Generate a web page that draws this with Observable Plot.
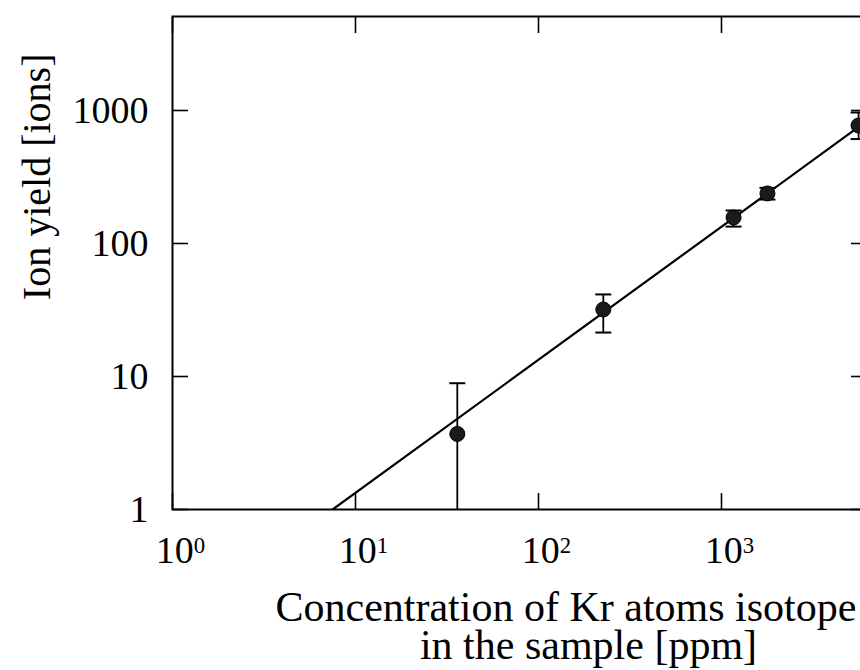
<!DOCTYPE html>
<html><head><meta charset="utf-8">
<script src="https://cdn.jsdelivr.net/npm/d3@7"></script>
<script src="https://cdn.jsdelivr.net/npm/@observablehq/plot@0.6"></script>
<style>
html,body{margin:0;padding:0;background:#fff;overflow:hidden;width:860px;height:670px}
#chart{width:860px;height:670px;overflow:hidden}
#chart svg{display:block;max-width:none !important;width:880px !important;height:670px !important}
</style></head><body><div id="chart"></div>
<script>
// Data
const concentration = [36, 226, 1164, 1783, 5610];   // ppm
const ionYield      = [3.7, 31.9, 157, 238, 771];     // ions
const yieldLow      = [0.5, 21.4, 134, 214, 610];
const yieldHigh     = [8.9, 41.4, 177, 262, 966];
const fitConcentration = [7.5, 6200];
const fitYield         = [1, 830];
const xTicks = [1, 10, 100, 1000];
const yTicks = [1, 10, 100, 1000];
const yLabel = "Ion yield [ions]";
const xLabelLines = ["Concentration of Kr atoms isotope", "in the sample [ppm]"];

const points = concentration.map((c, i) => ({c, y: ionYield[i], lo: yieldLow[i], hi: yieldHigh[i]}));
const fit = fitConcentration.map((c, i) => ({c, y: fitYield[i]}));
const capSymbol = {draw(ctx, size) { const w = Math.sqrt(size / Math.PI); ctx.moveTo(-w, 0); ctx.lineTo(w, 0); }};

const chart = Plot.plot({
  width: 880, height: 670,
  marginLeft: 172, marginRight: 14, marginTop: 16, marginBottom: 161,
  style: {fontFamily: "'Liberation Serif', 'Times New Roman', serif", fontSize: "38px", color: "#000", background: "#fff", overflow: "visible", maxWidth: "none"},
  x: {type: "log", domain: [1, 6200]},
  y: {type: "log", domain: [1, 5090]},
  marks: [
    Plot.line(fit, {x: "c", y: "y", stroke: "#000", strokeWidth: 2.2, clip: true}),
    Plot.ruleX(points, {x: "c", y1: "lo", y2: "hi", stroke: "#000", strokeWidth: 1.8, clip: true}),
    Plot.dot(points, {x: "c", y: "hi", symbol: capSymbol, r: 8, stroke: "#000", strokeWidth: 2, fill: "none", clip: true}),
    Plot.dot(points, {x: "c", y: "lo", symbol: capSymbol, r: 8, stroke: "#000", strokeWidth: 2, fill: "none", clip: true}),
    Plot.dot(points, {x: "c", y: "y", r: 7.5, fill: "#1a1a1a", stroke: "#000", strokeWidth: 1, clip: true}),
    Plot.frame({stroke: "#000", strokeWidth: 2}),
    Plot.axisY({ticks: yTicks, tickSize: -16, fill: "none", strokeWidth: 1.6}),
    Plot.axisY({anchor: "right", ticks: yTicks, tickSize: -16, fill: "none", strokeWidth: 1.6}),
    Plot.axisX({ticks: xTicks, tickSize: -16, fill: "none", strokeWidth: 1.6}),
    Plot.axisX({anchor: "top", ticks: xTicks, tickSize: -16, fill: "none", strokeWidth: 1.6}),
    Plot.axisY({ticks: yTicks, tickSize: 0, tickPadding: 24, tickFormat: d => String(d), label: null}),
    Plot.axisX({ticks: xTicks, tickSize: 0, tickPadding: 27, tickFormat: d => "10^" + Math.round(Math.log10(d)), label: null}),
    Plot.text([yLabel], {text: d => d, frameAnchor: "top-left", rotate: -90, textAnchor: "end", dx: -151, dy: 37, fontSize: 40}),
    Plot.text([xLabelLines.join("\n")], {text: d => d, frameAnchor: "bottom-left", textAnchor: "start", lineAnchor: "top", lineHeight: 0.9, dx: 103, dy: 85, fontSize: 42})
  ]
});

// superscript exponents on the x tick labels
d3.select(chart).selectAll('g[aria-label="x-axis tick label"] text').each(function() {
  const parts = this.textContent.split("^");
  const s = d3.select(this);
  s.text(null);
  s.append("tspan").text(parts[0]);
  s.append("tspan").attr("dy", "-0.45em").attr("font-size", "0.6em").text(parts[1]);
  const tr = this.getAttribute("transform") || "";
  this.setAttribute("transform", tr + " translate(8,0)");
});

// second line of the x label is centred further right, as in the reference
d3.select(chart).selectAll("tspan").each(function() {
  if (this.textContent === xLabelLines[1]) {
    this.setAttribute("x", 313);
    this.setAttribute("text-anchor", "middle");
  }
});

document.getElementById("chart").appendChild(chart);
</script></body></html>
